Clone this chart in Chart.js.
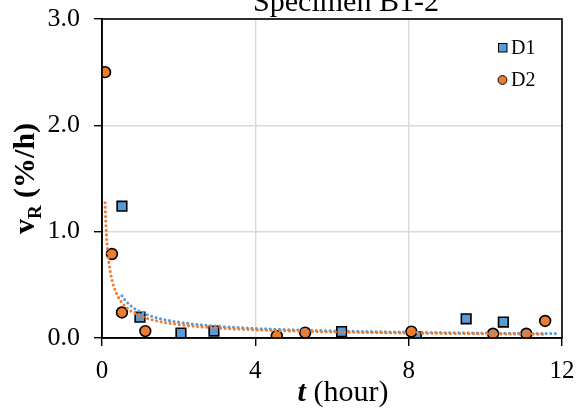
<!DOCTYPE html>
<html>
<head>
<meta charset="utf-8">
<script src="https://cdn.jsdelivr.net/npm/chart.js@4.4.1/dist/chart.umd.min.js"></script>
<style>
  html, body { margin: 0; padding: 0; background: #fff; }
  #wrap { width: 586px; height: 410px; position: relative; }
</style>
</head>
<body>
<div id="wrap"><canvas id="c" width="586" height="410"></canvas></div>
<script>
// ---- Data ----
const chartTitle = "Specimen B1-2";
const d1Label = "D1";
const d2Label = "D2";
const d1Time = [0.52, 0.99, 2.06, 2.92, 6.25, 8.2, 9.5, 10.47];
const d1Rate = [1.24, 0.196, 0.047, 0.065, 0.06, 0.01, 0.18, 0.15];
const d2Time = [0.08, 0.26, 0.52, 1.13, 4.56, 5.3, 8.07, 10.2, 11.07, 11.56];
const d2Rate = [2.5, 0.79, 0.24, 0.065, 0.02, 0.05, 0.06, 0.04, 0.04, 0.16];
const xTicks = [0, 4, 8, 12];
const yTicks = [0, 1, 2, 3];

const FONT = "'Liberation Serif', 'Times New Roman', serif";
const BLUE = '#5B9BD5';
const ORANGE = '#ED7D31';

// Power trendline (least squares on ln t, ln v) computed from the data, as the spreadsheet does
function powerFit(ts, vs) {
  const lx = ts.map(Math.log), ly = vs.map(Math.log);
  const n = lx.length;
  const mx = lx.reduce((a, b) => a + b, 0) / n;
  const my = ly.reduce((a, b) => a + b, 0) / n;
  let sxy = 0, sxx = 0;
  for (let i = 0; i < n; i++) { sxy += (lx[i] - mx) * (ly[i] - my); sxx += (lx[i] - mx) ** 2; }
  const b = sxy / sxx;
  const a = Math.exp(my - b * mx);
  return t => a * Math.pow(t, b);
}
function trendPoints(ts, vs, tEnd) {
  const f = powerFit(ts, vs);
  const t0 = Math.min(...ts);
  const pts = [];
  const N = 200;
  for (let i = 0; i <= N; i++) {
    const t = t0 * Math.pow(tEnd / t0, i / N);
    pts.push({ x: t, y: f(t) });
  }
  return pts;
}

const d1Points = d1Time.map((t, i) => ({ x: t, y: d1Rate[i] }));
const d2Points = d2Time.map((t, i) => ({ x: t, y: d2Rate[i] }));

const trendStyle = {
  type: 'line', showLine: true, pointRadius: 0, fill: false,
  borderWidth: 3.1, borderDash: [0, 4.6], borderCapStyle: 'round', tension: 0
};

const overlay = {
  id: 'overlay',
  afterDraw(chart) {
    const ctx = chart.ctx;
    const a = chart.chartArea;
    ctx.save();
    // plot box
    ctx.strokeStyle = '#000';
    ctx.lineWidth = 1.6;
    ctx.strokeRect(a.left, a.top, a.right - a.left, a.bottom - a.top);
    // title (cut off at top)
    ctx.fillStyle = '#000';
    ctx.font = '30px ' + FONT;
    ctx.textAlign = 'center';
    ctx.textBaseline = 'alphabetic';
    ctx.fillText(chartTitle, 346, 11);
    // x title: bold italic t + (hour)
    ctx.textAlign = 'left';
    const xt1 = 't', xt2 = ' (hour)';
    ctx.font = 'bold italic 30px ' + FONT;
    const w1 = ctx.measureText(xt1).width;
    ctx.font = '30px ' + FONT;
    const w2 = ctx.measureText(xt2).width;
    let x0 = 343 - (w1 + w2) / 2;
    const yb = 401;
    ctx.font = 'bold italic 30px ' + FONT;
    ctx.fillText(xt1, x0, yb);
    ctx.font = '30px ' + FONT;
    ctx.fillText(xt2, x0 + w1, yb);
    // y title: bold v with subscript R, (%/h)
    ctx.save();
    ctx.translate(34, 178.5);
    ctx.rotate(-Math.PI / 2);
    ctx.font = 'bold 30px ' + FONT;
    const p1 = 'v';
    const p3 = ' (%/h)';
    const wv = ctx.measureText(p1).width;
    const w3 = ctx.measureText(p3).width;
    ctx.font = 'bold 19px ' + FONT;
    const wr = ctx.measureText('R').width;
    let sx = -(wv + wr + w3) / 2;
    ctx.font = 'bold 30px ' + FONT;
    ctx.fillText(p1, sx, 0);
    ctx.font = 'bold 19px ' + FONT;
    ctx.fillText('R', sx + wv, 7);
    ctx.font = 'bold 30px ' + FONT;
    ctx.fillText(p3, sx + wv + wr, 0);
    ctx.restore();
    // legend
    ctx.font = '20px ' + FONT;
    ctx.textBaseline = 'middle';
    ctx.lineWidth = 1;
    ctx.strokeStyle = '#000';
    ctx.fillStyle = BLUE;
    ctx.fillRect(498.5, 43.5, 8.5, 8.5);
    ctx.strokeRect(498.5, 43.5, 8.5, 8.5);
    ctx.fillStyle = '#000';
    ctx.fillText(d1Label, 511, 49);
    ctx.beginPath();
    ctx.arc(502.5, 80, 4.4, 0, Math.PI * 2);
    ctx.fillStyle = ORANGE;
    ctx.fill();
    ctx.stroke();
    ctx.fillStyle = '#000';
    ctx.fillText(d2Label, 511, 81);
    ctx.restore();
  }
};

new Chart(document.getElementById('c'), {
  type: 'scatter',
  data: {
    datasets: [
      Object.assign({ label: 'Power (D2)', data: trendPoints(d2Time, d2Rate, Math.max(...d2Time)), borderColor: ORANGE }, trendStyle),
      Object.assign({ label: 'Power (D1)', data: trendPoints(d1Time, d1Rate, 11.9), borderColor: BLUE }, trendStyle),
      { label: d2Label, data: d2Points, pointStyle: 'circle', pointRadius: 5.4, pointBackgroundColor: ORANGE, pointBorderColor: '#000', pointBorderWidth: 1.6, showLine: false },
      { label: d1Label, data: d1Points, pointStyle: 'rect', pointRadius: 6.8, pointBackgroundColor: BLUE, pointBorderColor: '#000', pointBorderWidth: 1.6, showLine: false }
    ]
  },
  options: {
    responsive: false,
    animation: false,
    devicePixelRatio: 1,
    layout: { padding: { left: 0, top: 19, right: 24, bottom: 0 } },
    plugins: { legend: { display: false }, title: { display: false }, tooltip: { enabled: false } },
    scales: {
      x: {
        type: 'linear', min: 0, max: 12,
        afterBuildTicks: s => { s.ticks = xTicks.map(v => ({ value: v })); },
        afterFit: s => { s.height = 72; s.paddingLeft = 0; s.paddingRight = 0; },
        ticks: { color: '#000', font: { family: FONT, size: 25 }, padding: 10.5, maxRotation: 0, callback: v => String(v) },
        grid: { color: '#d9d9d9', lineWidth: 1.4, tickColor: '#000', tickLength: 8, drawTicks: true },
        border: { color: '#000', width: 1.6 }
      },
      y: {
        type: 'linear', min: 0, max: 3,
        afterBuildTicks: s => { s.ticks = yTicks.map(v => ({ value: v })); },
        afterFit: s => { s.width = 102; s.paddingTop = 0; s.paddingBottom = 0; },
        ticks: { color: '#000', font: { family: FONT, size: 26 }, padding: 14, callback: v => v.toFixed(1) },
        grid: { color: '#d9d9d9', lineWidth: 1.4, tickColor: '#000', tickLength: 8, drawTicks: true },
        border: { color: '#000', width: 1.6 }
      }
    }
  },
  plugins: [overlay]
});
</script>
</body>
</html>
